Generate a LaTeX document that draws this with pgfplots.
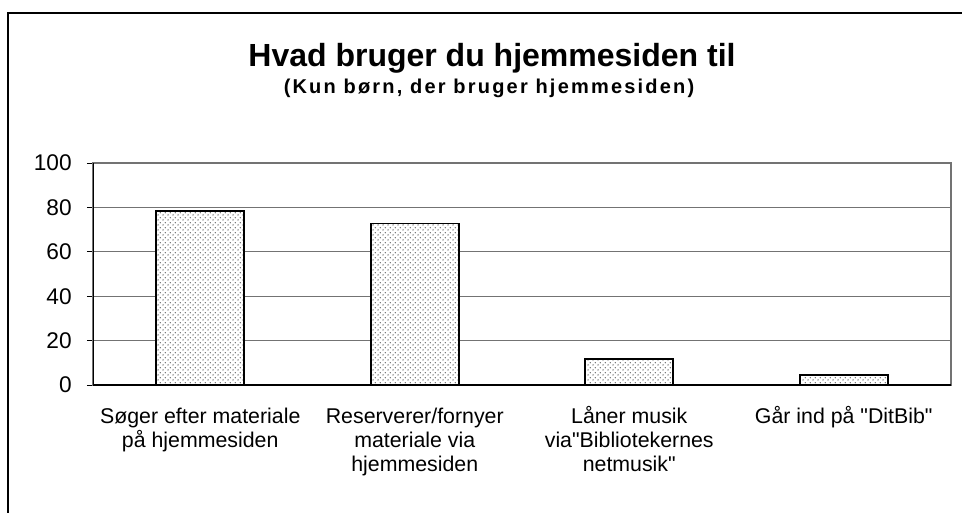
\documentclass[border=0pt]{standalone}
\usepackage{fontspec}
\setmainfont{Liberation Sans}[Ligatures=TeXOff]
\usepackage{pgfplots}
\pgfplotsset{compat=1.18}
\usetikzlibrary{patterns}
\pgfdeclarepatternformonly{stipple}{\pgfqpoint{0pt}{0pt}}{\pgfqpoint{3.8pt}{3.8pt}}{\pgfqpoint{3.8pt}{3.8pt}}{%
  \pgfpathcircle{\pgfqpoint{0.95pt}{0.95pt}}{0.6pt}%
  \pgfpathcircle{\pgfqpoint{2.85pt}{2.85pt}}{0.6pt}%
  \pgfusepath{fill}%
}
\newcommand{\ph}{\vphantom{ÅÉ(/}}
\begin{document}
\begin{tikzpicture}[x=0.75pt,y=0.75pt]
\useasboundingbox (0,0) rectangle (962,512);
% outer frame (left and top visible)
\draw[line width=1.6pt,black] (8,-10) -- (8,499) -- (975,499);
% titles
\node[anchor=base,font=\bfseries\fontsize{24}{28}\selectfont] at (492,446) {Hvad bruger du hjemmesiden til};
\node[anchor=base,font=\bfseries\addfontfeature{LetterSpace=11}\fontsize{15}{17}\selectfont] at (489,419) {(Kun børn, der bruger hjemmesiden)};
\begin{axis}[
  at={(69.75pt,95.25pt)}, anchor=south west,
  width=643.5pt, height=166.5pt, scale only axis,
  xmin=-0.5, xmax=3.5, ymin=0, ymax=100,
  ytick={0,20,40,60,80,100},
  xtick={0,1,2,3},
  xticklabels={{\ph Søger efter materiale\\på hjemmesiden},{\ph Reserverer/fornyer\\materiale via\\hjemmesiden},{\ph Låner musik\\via"Bibliotekernes\\netmusik"},{\ph Går ind på "DitBib"}},
  xticklabel style={align=center,font=\fontsize{16}{18}\selectfont,yshift=-6.5pt},
  yticklabel style={font=\fontsize{17}{19}\selectfont,xshift=-8pt},
  /pgf/number format/assume math mode=true,
  xtick style={draw=none},
  ytick pos=left, tick align=outside, major tick length=4.5pt,
  ytick style={black,line width=0.6pt},
  ymajorgrids, grid style={black!55,line width=0.6pt},
  axis line style={black!55,line width=0.8pt},
  ybar, bar width=66pt,
]
\addplot[draw=black,line width=1.2pt,fill=white,postaction={pattern=stipple,pattern color=black!70}] coordinates {(0,78.3) (1,72.8) (2,11.8) (3,4.5)};
\draw[black,line width=0.8pt] (rel axis cs:0,1) -- (rel axis cs:0,0) -- (rel axis cs:1,0);
\end{axis}
\end{tikzpicture}
\end{document}
